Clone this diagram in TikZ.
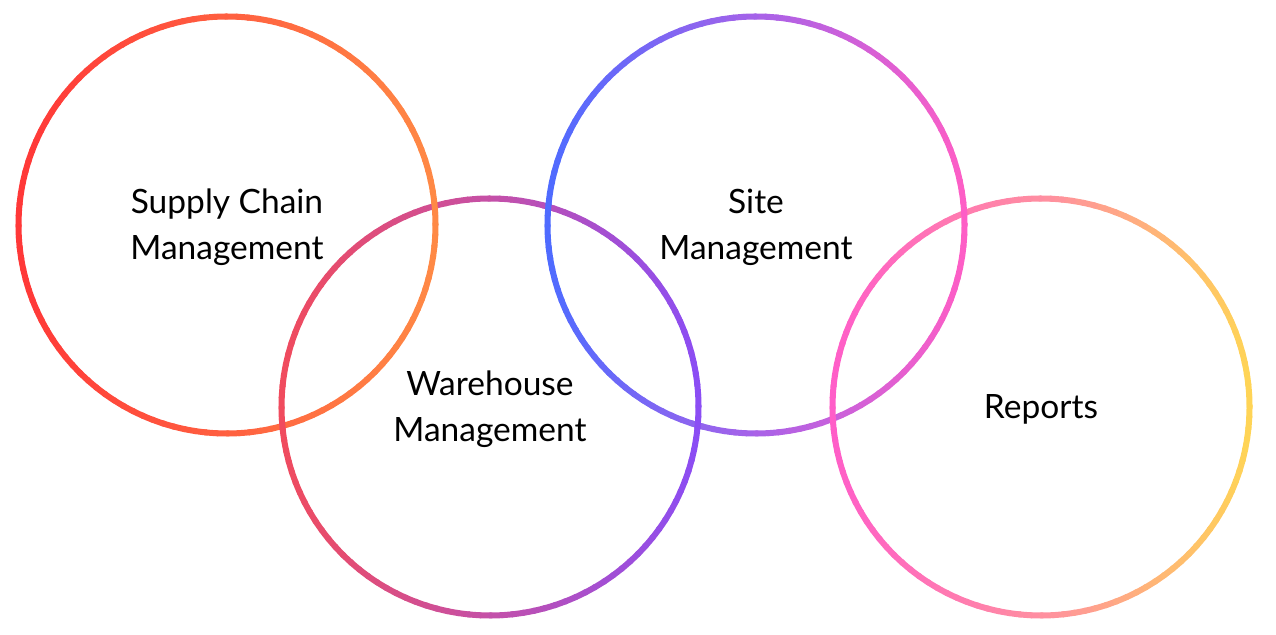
\documentclass[tikz,border=0pt]{standalone}
\usepackage{fontspec}
\setmainfont{Lato}
\usetikzlibrary{positioning}

\definecolor{scmL}{HTML}{FF3838}
\definecolor{scmM}{HTML}{FF6040}
\definecolor{scmR}{HTML}{FF8A45}
\definecolor{whmL}{HTML}{F04B5E}
\definecolor{whmM}{HTML}{C450A8}
\definecolor{whmR}{HTML}{8A4DF5}
\definecolor{sitL}{HTML}{4F6BFF}
\definecolor{sitM}{HTML}{A862E8}
\definecolor{sitR}{HTML}{FF5EC5}
\definecolor{repL}{HTML}{FF5EC8}
\definecolor{repM}{HTML}{FF8FA0}
\definecolor{repR}{HTML}{FFD555}

% one ring: node, left/mid/right colours, pass (0 = top and bottom, 1 = sides)
\newcommand\gradring[5]{%
  \foreach \a in {0,3,...,357}{
    \pgfmathtruncatemacro\t{50*(1+cos(\a+1.5))}
    \pgfmathtruncatemacro\side{abs(cos(\a+1.5))>abs(sin(\a+1.5))}
    \ifnum\t<50
      \pgfmathtruncatemacro\p{2*\t}
      \colorlet{segcol}{#3!\p!#2}
    \else
      \pgfmathtruncatemacro\p{2*\t-100}
      \colorlet{segcol}{#4!\p!#3}
    \fi
    \ifnum\side=#5
      \draw[ring, segcol] (#1.center) ++(\a:\rr) arc[start angle=\a, delta angle=3.4, radius=\rr];
    \fi
  }%
}

\begin{document}
\begin{tikzpicture}[x=1pt, y=1pt,
  ring/.style={line width=6pt, line cap=round},
  label/.style={align=center, font=\fontsize{33.5}{46}\selectfont, text=black}]
\useasboundingbox (0,0) rectangle (1276,634);
\def\rr{208.5}

\coordinate (scm) at (227,409);
\coordinate (whm) at (490,227);
\coordinate (sit) at (756,409);
\coordinate (rep) at (1041,227);

\node[label, yshift=-2.5pt] (scmtext) at (scm) {Supply Chain\\Management};
\node[label, yshift=-2.5pt] (whmtext) at (whm) {Warehouse\\Management};
\node[label, yshift=-2.5pt] (sittext) at (sit) {Site\\Management};
\node[label, yshift=-2.5pt] (reptext) at (rep) {Reports};

\gradring{scm}{scmL}{scmM}{scmR}{0}
\gradring{whm}{whmL}{whmM}{whmR}{0}
\gradring{sit}{sitL}{sitM}{sitR}{0}
\gradring{rep}{repL}{repM}{repR}{0}

\gradring{scm}{scmL}{scmM}{scmR}{1}
\gradring{whm}{whmL}{whmM}{whmR}{1}
\gradring{sit}{sitL}{sitM}{sitR}{1}
\gradring{rep}{repL}{repM}{repR}{1}

\end{tikzpicture}
\end{document}
